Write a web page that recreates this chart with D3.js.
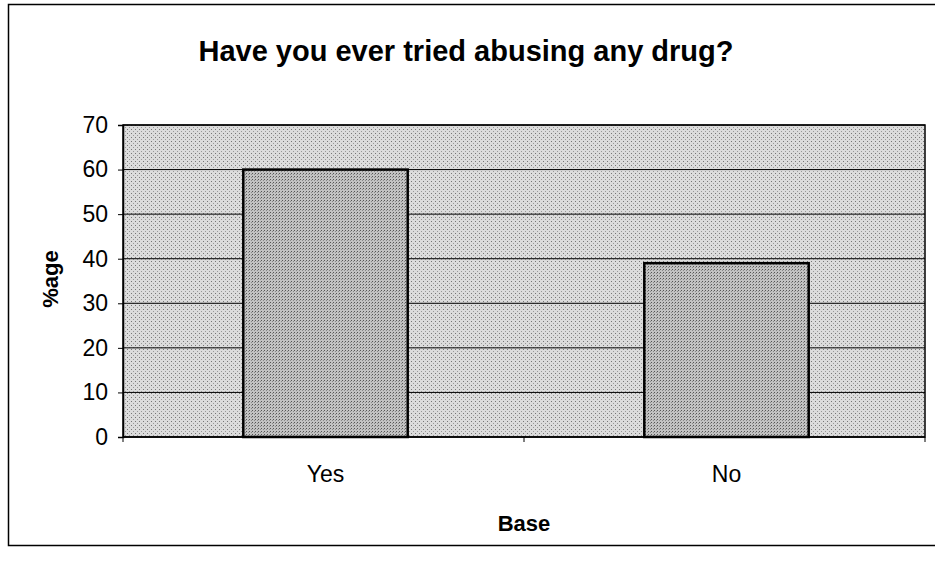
<!DOCTYPE html>
<html>
<head>
<meta charset="utf-8">
<script src="https://cdn.jsdelivr.net/npm/d3@7"></script>
<style>
    body { margin: 0; background: #fff; }
    text { font-family: Arial, "Liberation Sans", sans-serif; fill: #000; }
</style>
</head>
<body>
<div id="chart"></div>
<script>
// chart data
let categories = ["Yes", "No"];
let values = [60, 39];
let yTicks = [0, 10, 20, 30, 40, 50, 60, 70];

let title = "Have you ever tried abusing any drug?";
let xTitle = "Base";
let yTitle = "%age";

let width = 935, height = 562;
let margin = {top: 125, right: 10, bottom: 125, left: 123};
let plotW = width - margin.left - margin.right;
let plotH = height - margin.top - margin.bottom;

let svg = d3.select("#chart").append("svg")
    .attr("width", width)
    .attr("height", height);

// outer chart border (right side is cut off in the scan)
svg.append("rect")
    .attr("x", 8.5).attr("y", 4.5)
    .attr("width", 940).attr("height", 541)
    .attr("fill", "none")
    .attr("stroke", "#000")
    .attr("stroke-width", 1.5);

// dotted texture like the scanned fill
let defs = svg.append("defs");
let bgPat = defs.append("pattern")
    .attr("id", "bgPat").attr("patternUnits", "userSpaceOnUse")
    .attr("width", 4).attr("height", 4);
bgPat.append("rect").attr("width", 4).attr("height", 4).attr("fill", "#dcdcdc");
bgPat.append("rect").attr("x", 0).attr("y", 0).attr("width", 1).attr("height", 1).attr("fill", "#777");
bgPat.append("rect").attr("x", 2).attr("y", 2).attr("width", 1).attr("height", 1).attr("fill", "#999");

let barPat = defs.append("pattern")
    .attr("id", "barPat").attr("patternUnits", "userSpaceOnUse")
    .attr("width", 3).attr("height", 3);
barPat.append("rect").attr("width", 3).attr("height", 3).attr("fill", "#c2c2c2");
barPat.append("rect").attr("x", 0).attr("y", 0).attr("width", 1).attr("height", 1).attr("fill", "#555");
barPat.append("rect").attr("x", 2).attr("y", 1).attr("width", 1).attr("height", 1).attr("fill", "#888");

let g = svg.append("g")
    .attr("transform", "translate(" + margin.left + "," + margin.top + ")");

let x = d3.scaleBand()
    .domain(categories)
    .range([0, plotW])
    .paddingInner(0.59)
    .paddingOuter(0.295);

let y = d3.scaleLinear()
    .domain([0, 70])
    .range([plotH, 0]);

// plot area
g.append("rect")
    .attr("width", plotW).attr("height", plotH)
    .attr("fill", "url(#bgPat)");

// gridlines
g.selectAll(".grid")
    .data(yTicks.filter(d => d > 0))
    .enter().append("line")
    .attr("x1", 0).attr("x2", plotW)
    .attr("y1", d => y(d)).attr("y2", d => y(d))
    .attr("stroke", "#000").attr("stroke-width", 1);

// bars
g.selectAll(".bar")
    .data(categories)
    .enter().append("rect")
    .attr("x", d => x(d) + 2)
    .attr("y", (d, i) => y(values[i]))
    .attr("width", x.bandwidth())
    .attr("height", (d, i) => plotH - y(values[i]))
    .attr("fill", "url(#barPat)")
    .attr("stroke", "#000").attr("stroke-width", 2.5);

// plot border
g.append("rect")
    .attr("width", plotW).attr("height", plotH)
    .attr("fill", "none")
    .attr("stroke", "#000").attr("stroke-width", 1.5);

// y axis
let yAxis = g.append("g")
    .call(d3.axisLeft(y).tickValues(yTicks).tickSize(5).tickPadding(10));
yAxis.select(".domain").attr("stroke-width", 1.5);
yAxis.selectAll("text")
    .attr("font-size", 23).attr("font-family", "Arial, 'Liberation Sans', sans-serif");

// x axis: ticks between categories like the original
let xAxis = g.append("g")
    .attr("transform", "translate(0," + plotH + ")");
xAxis.append("line")
    .attr("x1", 0).attr("x2", plotW)
    .attr("stroke", "#000").attr("stroke-width", 1.5);
let bounds = [0, plotW / 2, plotW];
xAxis.selectAll(".xtick")
    .data(bounds)
    .enter().append("line")
    .attr("x1", d => d).attr("x2", d => d)
    .attr("y1", 0).attr("y2", 5)
    .attr("stroke", "#000");
xAxis.selectAll(".xlabel")
    .data(categories)
    .enter().append("text")
    .attr("x", d => x(d) + x.bandwidth() / 2 + 2)
    .attr("y", 45)
    .attr("text-anchor", "middle")
    .attr("font-size", 23)
    .text(d => d);

// titles
svg.append("text")
    .attr("x", 466).attr("y", 61)
    .attr("text-anchor", "middle")
    .attr("font-size", 29).attr("font-weight", "bold")
    .text(title);

svg.append("text")
    .attr("x", margin.left + plotW / 2).attr("y", 531)
    .attr("text-anchor", "middle")
    .attr("font-size", 22).attr("font-weight", "bold")
    .text(xTitle);

svg.append("text")
    .attr("transform", "translate(58," + (margin.top + plotH / 2 - 2) + ") rotate(-90)")
    .attr("text-anchor", "middle")
    .attr("font-size", 22).attr("font-weight", "bold")
    .text(yTitle);
</script>
</body>
</html>
